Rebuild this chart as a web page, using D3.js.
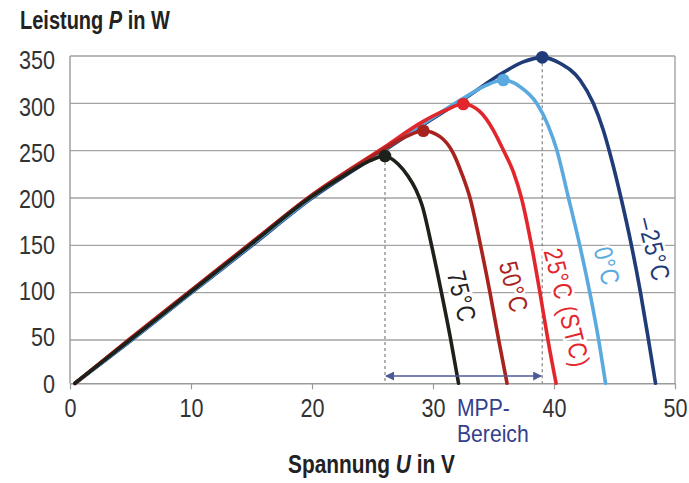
<!DOCTYPE html>
<html><head><meta charset="utf-8">
<script src="https://cdn.jsdelivr.net/npm/d3@7"></script>
<style>
html,body{margin:0;padding:0;background:#fff;}
svg{display:block;}
text{font-family:"Liberation Sans",Arial,sans-serif;}
</style></head>
<body>
<svg id="chart" width="689" height="483"></svg>
<script>
// ---- data ----
const xTicks = [0, 10, 20, 30, 40, 50];
const yTicks = [0, 50, 100, 150, 200, 250, 300, 350];
const seriesNames = ["–25°C", "0°C", "25°C (STC)", "50°C", "75°C"];
const seriesColors = ["#1f3b78", "#5aaae0", "#e3262b", "#a8231e", "#1c2119"];
const curveM25 = [[0.41,0],[4.96,48.5],[10,99.5],[15,149.5],[19.8,198],[26,250.5],[29.2,277.5],[32.6,305],[35.8,332.5],[37.4,343.5],[39.03,348.6],[40.5,342.3],[42.15,324.6],[43.25,300],[44.07,271.8],[44.77,240.1],[45.54,200],[46.4,150],[47.15,100],[47.81,50],[48.39,0]];
const curve0 = [[0.41,0],[4.96,49],[10,100],[15,150.5],[19.8,199],[26,251.5],[29.2,278.5],[32.6,306],[34.3,318.5],[35.81,324.6],[37.19,317.6],[38.57,300],[39.5,277],[40.2,252],[41.2,200],[42.13,150],[42.96,100],[43.69,50],[44.26,0]];
const curve25 = [[0.41,0],[4.96,51.5],[10,102.5],[15,153],[19.8,201.5],[26,254],[29.2,281],[31,292.5],[32.5,299.3],[33.88,291.2],[34.98,271.8],[35.81,250.7],[36.64,227.5],[37.31,200],[38.14,150],[38.84,100],[39.5,50],[40.17,0]];
const curve50 = [[0.41,0],[4.96,51],[10,102],[15,152.5],[19.8,201],[23,228.5],[26,252],[27.8,265],[29.2,271.1],[30.58,264.8],[31.68,247.2],[32.37,226.1],[33.06,200],[33.93,150],[34.71,100],[35.43,50],[36.12,0]];
const curve75 = [[0.41,0],[4.96,50],[10,101],[15,151.5],[19.8,200],[23,226.5],[24.8,239.5],[26.03,244.4],[27.11,235.9],[27.93,223.2],[28.6,208.4],[29.09,192.6],[29.88,150],[30.7,100],[31.47,50],[32.11,0]];
const mppV = [39.03, 35.81, 32.5, 29.2, 26.03];
const mppP = [348.6, 324.6, 299.3, 271.1, 244.4];
const curves = [curveM25, curve0, curve25, curve50, curve75];

// ---- layout ----
const svg = d3.select("#chart");
const FONT = 26, K = 0.83;
const x = d3.scaleLinear().domain([0, 50]).range([70, 675]);
const y = d3.scaleLinear().domain([0, 50, 350]).range([383.3, 340, 56]);
const yLab = d3.scaleLinear().domain([0, 350]).range([383.3, 60]);

function squeeze(node, ax, ay, k) {
  d3.select(node).attr("transform", `translate(${ax},${ay}) scale(${k},1) translate(${-ax},${-ay})`);
}
function fitWidth(node, ax, ay, target) {
  const w = node.getComputedTextLength();
  squeeze(node, ax, ay, target / w);
}

svg.append("rect").attr("width", 689).attr("height", 483).attr("fill", "#fff");

// grid
svg.append("g").selectAll("line").data(yTicks.filter(d => d > 0)).join("line")
  .attr("x1", x(0)).attr("x2", x(50))
  .attr("y1", d => y(d)).attr("y2", d => y(d))
  .attr("stroke", "#a3a3a3").attr("stroke-width", 1.4);
svg.append("line").attr("x1", x(0)).attr("x2", x(0)).attr("y1", y(350)).attr("y2", y(0))
  .attr("stroke", "#9a9a9a").attr("stroke-width", 1.4);
svg.append("line").attr("x1", x(50)).attr("x2", x(50)).attr("y1", y(350)).attr("y2", y(0))
  .attr("stroke", "#a3a3a3").attr("stroke-width", 1.4);

// x axis
const xAxis = d3.axisBottom(x).tickValues(xTicks).tickSize(6).tickSizeOuter(0).tickFormat(d3.format("d"));
const gx = svg.append("g").attr("transform", `translate(0,${y(0)})`).call(xAxis);
gx.select(".domain").attr("stroke", "#9a9a9a").attr("stroke-width", 1.4);
gx.selectAll(".tick line").attr("stroke", "#9a9a9a").attr("stroke-width", 1.2);
gx.selectAll(".tick text").attr("font-size", FONT).attr("fill", "#333")
  .attr("font-family", null).attr("y", 34).attr("dy", 0)
  .attr("transform", `scale(${K},1)`);

// y labels
svg.append("g").selectAll("text").data(yTicks).join("text")
  .attr("x", 55).attr("y", d => yLab(d)).attr("dy", "0.36em")
  .attr("text-anchor", "end").attr("font-size", FONT).attr("fill", "#333")
  .text(d => d)
  .each(function(d) { squeeze(this, 55, yLab(d), K); });

// dashed MPP verticals
[4, 0].forEach(i => {
  svg.append("line").attr("x1", x(mppV[i])).attr("x2", x(mppV[i]))
    .attr("y1", y(mppP[i])).attr("y2", y(0))
    .attr("stroke", "#8a8a8a").attr("stroke-width", 1.3).attr("stroke-dasharray", "3,3");
});

// curves
const line = d3.line().x(d => x(d[0])).y(d => y(d[1])).curve(d3.curveMonotoneX);
curves.forEach((c, i) => {
  svg.append("path").datum(c).attr("d", line).attr("fill", "none")
    .attr("stroke", seriesColors[i]).attr("stroke-width", 3.6)
    .attr("stroke-linejoin", "round").attr("stroke-linecap", "round");
});
svg.append("g").selectAll("circle").data(mppV).join("circle")
  .attr("cx", d => x(d)).attr("cy", (d, i) => y(mppP[i])).attr("r", 6.3)
  .attr("fill", (d, i) => seriesColors[i]);

// MPP range arrow
const defs = svg.append("defs");
defs.append("marker").attr("id", "ah").attr("viewBox", "0 0 10 10").attr("refX", 9).attr("refY", 5)
  .attr("markerWidth", 9).attr("markerHeight", 9).attr("markerUnits", "userSpaceOnUse").attr("orient", "auto-start-reverse")
  .append("path").attr("d", "M0,0 L10,5 L0,10 z").attr("fill", "#4b5b95");
svg.append("line").attr("x1", x(mppV[4]) + 1).attr("x2", x(mppV[0]) - 1)
  .attr("y1", y(8.4)).attr("y2", y(8.4))
  .attr("stroke", "#4b5b95").attr("stroke-width", 1.6)
  .attr("marker-start", "url(#ah)").attr("marker-end", "url(#ah)");

// MPP-Bereich label
const mx = 457;
[["MPP-", 416], ["Bereich", 442]].forEach(([s, yy]) => {
  svg.append("text").attr("x", mx).attr("y", yy).attr("font-size", 23).attr("fill", "#34408c")
    .text(s).each(function() { squeeze(this, mx, yy, 0.92); });
});

// curve labels (rotated)
const labelPos = [[48.3, 146], [44.4, 128], [41.1, 84], [36.7, 106], [32.4, 96]];
labelPos.forEach((p, i) => {
  svg.append("text")
    .attr("transform", `translate(${x(p[0])},${y(p[1])}) rotate(76) scale(${K},1)`)
    .attr("text-anchor", "middle").attr("dy", "0.36em")
    .attr("font-size", FONT).attr("letter-spacing", 1.2)
    .attr("fill", i === 4 ? "#222" : seriesColors[i])
    .attr("stroke", "#fff").attr("stroke-width", 5).attr("paint-order", "stroke")
    .text(seriesNames[i]);
});

// titles
const t1 = svg.append("text").attr("x", 20).attr("y", 29).attr("font-size", 25).attr("font-weight", "bold").attr("fill", "#222");
t1.append("tspan").text("Leistung ");
t1.append("tspan").attr("font-style", "italic").text("P");
t1.append("tspan").text(" in W");
fitWidth(t1.node(), 20, 29, 150);
const t2 = svg.append("text").attr("x", 288).attr("y", 473).attr("font-size", 25).attr("font-weight", "bold").attr("fill", "#222");
t2.append("tspan").text("Spannung ");
t2.append("tspan").attr("font-style", "italic").text("U");
t2.append("tspan").text(" in V");
fitWidth(t2.node(), 288, 473, 167);
</script>
</body></html>
